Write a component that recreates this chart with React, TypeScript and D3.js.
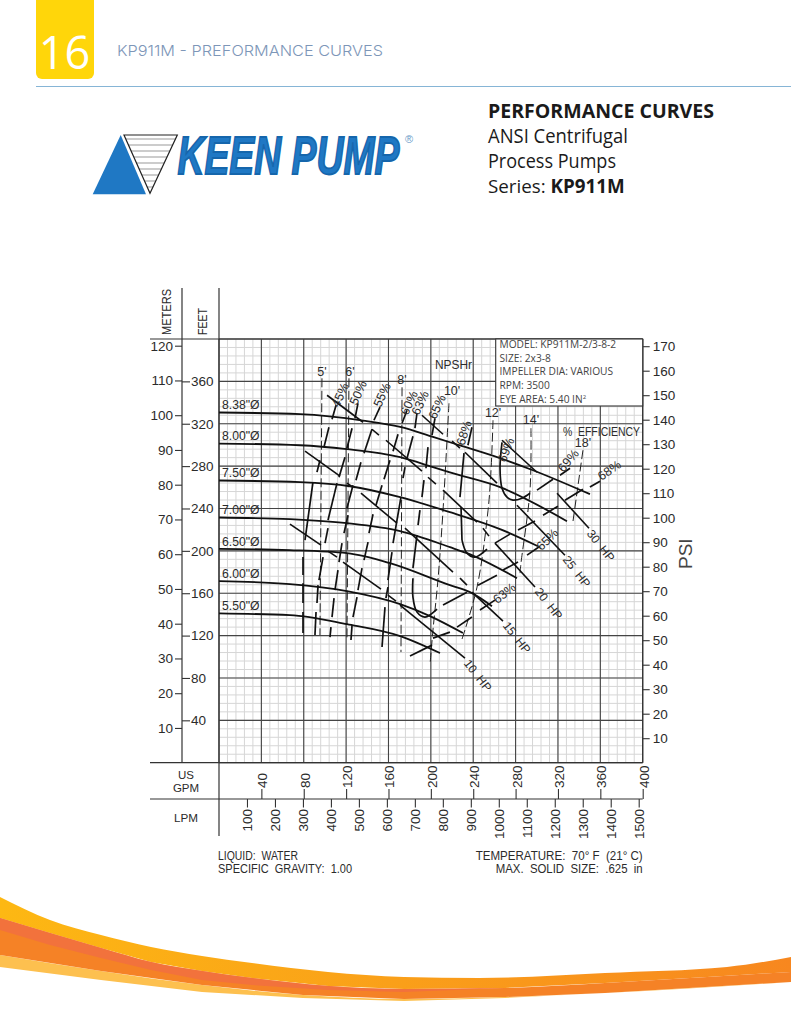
import { useEffect, useRef } from "react";
import * as d3 from "d3";

type Pt = [number, number];
type Segs = Pt[][];

// all curve values are [US GPM, feet]
const impellerLabels = ['8.38"Ø', '8.00"Ø', '7.50"Ø', '7.00"Ø', '6.50"Ø', '6.00"Ø', '5.50"Ø'];
const imp838: Pt[] = [[0, 330.6], [76.5, 329], [136, 323], [171, 317], [202, 307.5], [227.5, 299.5], [265.3, 287.5], [296.4, 276.1], [350.2, 253.5]];
const imp800: Pt[] = [[0, 301.3], [76.5, 299.7], [120.8, 296], [171, 288.4], [202, 279], [218, 274], [265.3, 260.1], [328.5, 228]];
const imp750: Pt[] = [[0, 266.4], [76.5, 264.8], [123.7, 261], [171, 250.7], [218, 236.5], [265.3, 220.5], [301.1, 204.4]];
const imp700: Pt[] = [[0, 231.5], [67, 229.9], [120.8, 226.1], [171, 218.6], [218, 203.5], [234.1, 197.8], [281.3, 174.2]];
const imp650: Pt[] = [[0, 201.9], [67, 200.7], [120.8, 197.8], [161.4, 188.4], [218, 167.6], [237, 161], [257.7, 147.8]];
const imp600: Pt[] = [[0, 171.4], [67, 168.6], [120.8, 162], [171, 149.7], [199.2, 138.4], [230.3, 122.4]];
const imp550: Pt[] = [[0, 140.9], [67, 139.3], [120.8, 130.8], [171, 119.5], [208.6, 103.5]];
const impellers = [imp838, imp800, imp750, imp700, imp650, imp600, imp550];

const hp10: Segs = [
  [[67, 225.2], [96.3, 205.4]], [[102.9, 199.7], [111.4, 194.1]], [[117.1, 189.3], [152.9, 163.9]],
  [[159.5, 158.2], [167.1, 152.6]], [[170.9, 148.8], [232.2, 98.8]],
];
const hp15: Segs = [
  [[81.2, 294.1], [114.2, 270.6]], [[120.8, 263.9], [126.5, 260.1]], [[134, 254.4], [168, 226.1]],
  [[175.6, 221.4], [220.9, 179.9]], [[227.5, 174.2], [234.1, 167.6]], [[238.8, 161], [268.1, 133.7]],
];
const hp20: Segs = [
  [[102, 346.9], [136, 321.4]], [[144.4, 314.8], [151, 309.2]], [[157.6, 304.4], [191.6, 275.2]],
  [[197.3, 269.5], [204.8, 262.9]], [[211.5, 257.3], [243.6, 227.1]], [[249.2, 221.4], [254.9, 213.9]],
  [[260.5, 207.3], [298.3, 165.8]],
];
const hp25: Segs = [
  [[191.6, 328], [211.5, 310.1]], [[220, 303.5], [227.5, 296.9]], [[232.2, 293.1], [262.4, 263.9]],
  [[281.3, 243.1], [326.6, 195.9]],
];
const hp30: Segs = [[[267.2, 304.4], [300.2, 274.2]], [[319.1, 254.4], [349.3, 221.4]]];
const powerLines = [hp10, hp15, hp20, hp25, hp30];

const npsh5: Pt[] = [[97.2, 362.9], [95.3, 120.5]];
const npsh6: Pt[] = [[122.7, 362.9], [120.8, 115.8]];
const npsh8: Pt[] = [[172.8, 354.4], [171.8, 104.4]];
const npsh10: Pt[] = [[217.1, 339.3], [211.5, 238.4], [206.7, 172.4], [202, 125.2], [199.2, 92.2]];
const npsh12: Pt[] = [[258.7, 323.3], [256.8, 276.1], [254, 238.4], [243.6, 165.8], [228.5, 113.9]];
const npsh14: Pt[] = [[294.5, 315.8], [293.6, 257.3], [285.1, 188.4], [284.2, 179]];
const npsh18: Pt[] = [[343.6, 295], [334.2, 228]];
const npshLines = [npsh5, npsh6, npsh8, npsh10, npsh12, npsh14, npsh18];

const eff45: Segs = [
  [[110.5, 337.4], [106.7, 324.3]], [[103.8, 316.7], [99.1, 297.9]], [[95.3, 285.6], [92.5, 274.3]],
  [[88.7, 264.9], [81.2, 210.1]], [[79.3, 194.1], [79.3, 177.1]], [[79.3, 169.5], [79.3, 150.7]], [[79.3, 142.2], [79.3, 122.4]],
];
const eff50: Segs = [
  [[131.2, 339.3], [128.4, 325.2]], [[125.6, 315.8], [120.8, 296.9]], [[118.9, 288.4], [113.3, 269.5]],
  [[111.4, 263.9], [102.9, 229]], [[102.9, 221.4], [100.1, 207.3]], [[98.2, 194.1], [94.4, 172.4]],
  [[93.5, 167.6], [92.5, 150.7]], [[91.6, 142.2], [90.6, 120.5]],
];
const eff55: Segs = [
  [[152, 335.6], [146.3, 323.3]], [[144.4, 314.8], [136.9, 292.2]], [[134, 283.7], [129.3, 266.7]],
  [[126.5, 262], [120.8, 240.3]], [[121.8, 233.7], [118, 216.7]], [[116.1, 207.3], [113.3, 189.3]],
  [[112.3, 181.8], [109.5, 162.9]], [[108.6, 155.4], [106.7, 137.5]], [[105.7, 128], [104.8, 118.6]],
];
const eff60: Segs = [
  [[177.5, 332.7], [172.8, 320.5]], [[169, 310.1], [164.3, 294.1]], [[161.4, 285.6], [155.8, 267.6]],
  [[153.9, 262], [148.2, 243.1]], [[145.4, 234.6], [141.6, 216.7]], [[140.7, 208.2], [136.9, 191.2]],
  [[135, 183.7], [131.2, 162.9]], [[130.3, 156.3], [126.5, 137.5]], [[125.6, 129.9], [124.6, 115.8]],
];
const eff63: Segs = [
  [[186.9, 329.9], [185, 315.8]], [[183.1, 308.2], [177.5, 287.5]], [[175.6, 279], [173.7, 268.6]],
  [[171.8, 250.7], [164.3, 207.3]], [[163.3, 198.8], [159.5, 172.4]], [[159.5, 165.8], [157.6, 155.4]],
  [[156.7, 146.9], [153.9, 109.2]],
  [[180.3, 100.7], [201.1, 111]], [[202, 117.6], [218, 123.3]], [[224.7, 128], [238.8, 137.5]], [[246.4, 144.1], [260.5, 153.5]],
];
const eff65: Segs = [
  [[203.9, 325.2], [201.1, 309.2]], [[197.3, 297.9], [195.4, 278]], [[193.5, 266.7], [191.6, 250.7]],
  [[189.7, 238.4], [187.9, 224.2]], [[186.9, 214.8], [183.1, 183.7]],
  [[183.1, 174.2], [183.1, 156.3], [186.9, 142.2], [194.5, 137.5], [205.8, 145]],
  [[211.5, 148.8], [234.1, 161]],
  [[244.5, 167.6], [262.4, 177]], [[268.1, 181.9], [282.3, 189.4]], [[290.8, 196], [303, 204.4]],
];
const eff68: Segs = [
  [[238.8, 316.7], [235, 299.7]], [[231.3, 292.2], [227.5, 250.7]], [[228.5, 241.2], [229.4, 210.1]],
  [[229.4, 210.1], [234.1, 197.8], [241.7, 194.1], [253, 201.6]],
  [[260.5, 207.3], [274.7, 215.8]], [[282.3, 219.6], [298.3, 228.1]], [[305.9, 233.7], [320, 242.2]],
  [[326.6, 247.8], [343.6, 258.2]], [[350.2, 260.2], [359.7, 265.8]],
];
const eff69: Segs = [
  [[267.2, 302.5], [265.3, 278], [267.2, 259.2], [271.9, 250.7], [277.5, 247.9], [286, 249.7], [293.6, 254.4]],
  [[300.2, 257.3], [315.3, 267.6]], [[321.9, 271.4], [331.4, 278]],
];
const effLines = [eff45, eff50, eff55, eff60, eff63, eff65, eff68, eff69];

// label, gpm, feet, rotation
const effLabels: [string, number, number, number][] = [
  ["45%", 115.2, 346.9, -65], ["50%", 132.2, 348.8, -65], ["55%", 154.8, 346.9, -65],
  ["60%", 180.3, 339.3, -65], ["63%", 190.7, 339.3, -65], ["65%", 206.7, 335.6, -65],
  ["68%", 232.2, 311, -72], ["69%", 271.9, 295, -68], ["69%", 330.4, 284.6, -50],
  ["68%", 369.1, 275.2, -35], ["65%", 310.6, 210.1, -45], ["63%", 270, 159.2, -38],
];
const hpLabels: [string, number, number][] = [
  ["30  HP", 359.7, 204.4], ["25  HP", 337, 179.9], ["20  HP", 310.6, 149.7], ["15  HP", 280.4, 117.6], ["10  HP", 243.6, 81.8],
];
const npshLabels: [string, number, number][] = [
  ["5'", 97.2, 368.6], ["6'", 123.7, 368.6], ["8'", 172.8, 360.2], ["10'", 220, 349.8],
  ["12'", 258.7, 329.9], ["14'", 294.5, 323.3], ["18'", 343.6, 301.6],
];

const meterTicks = d3.range(10, 121, 10);
const feetTicks = d3.range(40, 361, 40);
const psiTicks = d3.range(10, 171, 10);
const gpmTicks = d3.range(40, 401, 40);
const lpmTicks = d3.range(100, 1501, 100);
const minorGrid = d3.range(0, 401, 8);
const majorGrid = d3.range(0, 401, 40);

const infoLines = ["MODEL: KP911M-2/3-8-2", "SIZE: 2x3-8", "IMPELLER DIA: VARIOUS", "RPM: 3500"];

// swoosh bands, [x, y] in page pixels
const swooshTop: Pt[] = [[0, 897], [50, 920], [101, 935], [151, 947], [202, 956], [252, 963], [328, 972], [404, 977], [479, 978], [605, 973], [727, 967], [791, 957]];
const swooshMid: Pt[] = [[0, 918], [50, 933], [101, 948], [151, 962], [202, 971], [252, 978], [328, 986], [404, 989], [505, 988], [605, 983], [707, 977], [791, 972]];
const swooshSalmon: Pt[] = [[0, 930], [50, 945], [101, 958], [151, 970], [202, 980], [252, 985], [328, 990], [404, 992], [505, 988]];
const swooshLow: Pt[] = [[0, 955], [101, 971], [202, 985], [303, 995], [404, 999], [505, 997], [605, 993], [791, 982]];
const swooshBottom: Pt[] = [[0, 967], [101, 980], [202, 992], [303, 998], [404, 1001], [505, 998], [605, 993], [791, 982]];

const CAD_FONT = "'Liberation Sans', Arial, sans-serif";
const INK = "#2b2b2b";
const X0 = 219;
const X1 = 642.7;
const Y0 = 762.7;
const Y1 = 339;

export default function App() {
  const svgRef = useRef<SVGSVGElement>(null);

  useEffect(() => {
    const svg = d3.select(svgRef.current);
    svg.selectAll("*").remove();

    const x = d3.scaleLinear().domain([0, 400]).range([X0, X1]);
    const xLpm = d3.scaleLinear().domain([0, 1500]).range([X0, 638.7]);
    const y = d3.scaleLinear().domain([0, 400]).range([Y0, Y1]);
    const yM = d3.scaleLinear().domain([0, 120]).range([Y0, 345.7]);
    const yPsi = d3.scaleLinear().domain([0, 170]).range([Y0, 346.2]);

    const defs = svg.append("defs");
    const grad = defs.append("linearGradient").attr("id", "swooshYellow");
    grad.append("stop").attr("offset", "0").attr("stop-color", "#fdb813");
    grad.append("stop").attr("offset", "1").attr("stop-color", "#f7871f");
    defs.append("clipPath").attr("id", "logoClip").append("polygon").attr("points", "124,135 177.3,135 150,193.3");

    // header
    svg.append("path").attr("d", "M36,0H94V73a6,6 0 0 1 -6,6H42a6,6 0 0 1 -6,-6Z").attr("fill", "#ffd60a");
    svg.append("text").attr("x", 64.5).attr("y", 69).attr("text-anchor", "middle").attr("fill", "#fff")
      .attr("font-family", "'Open Sans', sans-serif").attr("font-weight", 400).attr("font-size", 45).text("16");
    svg.append("text").attr("x", 117).attr("y", 56).attr("fill", "#7d96b8").attr("font-family", "Inter, sans-serif")
      .attr("font-weight", 300).attr("font-size", 15).attr("textLength", 266).attr("lengthAdjust", "spacingAndGlyphs")
      .text("KP911M - PREFORMANCE CURVES");
    svg.append("line").attr("x1", 36).attr("x2", 791).attr("y1", 86.5).attr("y2", 86.5).attr("stroke", "#86b5d6");

    // logo
    svg.append("polygon").attr("points", "92.7,194.3 146,194.3 120.7,135").attr("fill", "#1f78c4");
    const logoStripes = svg.append("g").attr("clip-path", "url(#logoClip)");
    d3.range(139, 193, 6).forEach((sy) => {
      logoStripes.append("line").attr("x1", 120).attr("x2", 180).attr("y1", sy).attr("y2", sy).attr("stroke", "#9a9a9a").attr("stroke-width", 1.2);
    });
    svg.append("polygon").attr("points", "124,135 177.3,135 150,193.3").attr("fill", "none").attr("stroke", "#222").attr("stroke-width", 1.2);
    svg.append("text").attr("x", 177.5).attr("y", 173.6).attr("fill", "#1f78c4").attr("stroke", "#1566ac").attr("stroke-width", 1.8)
      .attr("font-family", CAD_FONT).attr("font-weight", 700).attr("font-style", "italic").attr("font-size", 53)
      .attr("textLength", 222).attr("lengthAdjust", "spacingAndGlyphs").text("KEEN PUMP");
    svg.append("text").attr("x", 405).attr("y", 143).attr("fill", "#6a9bc8").attr("font-family", CAD_FONT).attr("font-size", 11).text("®");

    // heading block
    const heading = svg.append("g").attr("font-family", "'Open Sans', sans-serif").attr("fill", "#1a1a1a").attr("font-size", 19.5);
    heading.append("text").attr("x", 488).attr("y", 118).attr("font-weight", 700).attr("textLength", 226).attr("lengthAdjust", "spacingAndGlyphs").text("PERFORMANCE CURVES");
    heading.append("text").attr("x", 488).attr("y", 143).attr("textLength", 140).attr("lengthAdjust", "spacingAndGlyphs").text("ANSI Centrifugal");
    heading.append("text").attr("x", 488).attr("y", 168).attr("textLength", 128).attr("lengthAdjust", "spacingAndGlyphs").text("Process Pumps");
    const series = heading.append("text").attr("x", 488).attr("y", 193).attr("font-size", 18.8);
    series.append("tspan").text("Series: ");
    series.append("tspan").attr("font-weight", 700).text("KP911M");

    // grid
    const grid = svg.append("g");
    minorGrid.forEach((v) => {
      grid.append("line").attr("x1", x(v)).attr("x2", x(v)).attr("y1", Y1).attr("y2", Y0).attr("stroke", "#d6d6d6");
      grid.append("line").attr("x1", X0).attr("x2", X1).attr("y1", y(v)).attr("y2", y(v)).attr("stroke", "#d6d6d6");
    });
    majorGrid.forEach((v) => {
      grid.append("line").attr("x1", x(v)).attr("x2", x(v)).attr("y1", Y1).attr("y2", Y0).attr("stroke", "#444").attr("stroke-width", 1.1);
      grid.append("line").attr("x1", X0).attr("x2", X1).attr("y1", y(v)).attr("y2", y(v)).attr("stroke", "#444").attr("stroke-width", 1.1);
    });

    // frame lines
    const frame = svg.append("g").attr("stroke", "#333").attr("stroke-width", 1.2);
    frame.append("line").attr("x1", 182).attr("x2", 182).attr("y1", 288).attr("y2", Y0);
    frame.append("line").attr("x1", X0).attr("x2", X0).attr("y1", 288).attr("y2", 836);
    frame.append("line").attr("x1", 150).attr("x2", X1).attr("y1", Y1).attr("y2", Y1);
    frame.append("line").attr("x1", 150).attr("x2", X1).attr("y1", Y0).attr("y2", Y0);
    frame.append("line").attr("x1", 150).attr("x2", X1).attr("y1", 799).attr("y2", 799);
    frame.append("line").attr("x1", X1).attr("x2", X1).attr("y1", Y1).attr("y2", Y0);

    const styleAxis = (g: d3.Selection<SVGGElement, unknown, null, undefined>) => {
      g.select(".domain").remove();
      g.selectAll(".tick line").attr("stroke", "#333").attr("stroke-width", 1.1);
      g.selectAll(".tick text").attr("fill", INK).attr("font-family", CAD_FONT).attr("font-size", 13.5);
    };
    svg.append("g").attr("transform", "translate(182,0)")
      .call(d3.axisLeft(yM).tickValues(meterTicks).tickSize(7).tickPadding(2)).call(styleAxis);
    svg.append("g").attr("transform", "translate(182,0)")
      .call(d3.axisRight(y).tickValues(feetTicks).tickSize(8).tickPadding(1)).call(styleAxis);
    svg.append("g").attr("transform", `translate(${X1},0)`)
      .call(d3.axisRight(yPsi).tickValues(psiTicks).tickSize(7).tickPadding(3)).call(styleAxis);
    svg.append("g").attr("transform", "translate(0,799)")
      .call(d3.axisTop(x).tickValues(gpmTicks).tickFormat(d3.format("d")).tickSize(10).tickPadding(1)).call(styleAxis)
      .selectAll(".tick text").attr("transform", "translate(5.5,-11) rotate(-90)").attr("text-anchor", "start").attr("x", 0).attr("y", 0).attr("dy", 0);
    svg.append("g").attr("transform", "translate(0,799)")
      .call(d3.axisBottom(xLpm).tickValues(lpmTicks).tickFormat(d3.format("d")).tickSize(8.5).tickPadding(1)).call(styleAxis)
      .selectAll(".tick text").attr("transform", "translate(5,10) rotate(-90)").attr("text-anchor", "end").attr("x", 0).attr("y", 0).attr("dy", 0);

    // curves
    const impLine = d3.line<Pt>().x((d) => x(d[0])).y((d) => y(d[1])).curve(d3.curveMonotoneX);
    const freeLine = d3.line<Pt>().x((d) => x(d[0])).y((d) => y(d[1])).curve(d3.curveCatmullRom);

    const npshG = svg.append("g").attr("fill", "none").attr("stroke", "#222").attr("stroke-width", 1).attr("stroke-dasharray", "9 3.5");
    npshLines.forEach((l) => npshG.append("path").attr("d", freeLine(l)));

    const effG = svg.append("g").attr("fill", "none").attr("stroke", "#111").attr("stroke-width", 1.7);
    effLines.forEach((segs) => segs.forEach((s) => effG.append("path").attr("d", freeLine(s))));

    const hpG = svg.append("g").attr("fill", "none").attr("stroke", "#111").attr("stroke-width", 1.6);
    powerLines.forEach((segs) => segs.forEach((s) => hpG.append("path").attr("d", freeLine(s))));

    const impG = svg.append("g").attr("fill", "none").attr("stroke", "#111").attr("stroke-width", 1.8);
    impellers.forEach((l) => impG.append("path").attr("d", impLine(l)));

    // info box sits over the grid
    svg.append("rect").attr("x", 495.7).attr("y", Y1).attr("width", X1 - 495.7).attr("height", 67)
      .attr("fill", "#fff").attr("stroke", "#333").attr("stroke-width", 1.1);
    const info = svg.append("g").attr("font-family", "'Open Sans', sans-serif").attr("font-size", 10.2).attr("fill", "#444");
    infoLines.forEach((t, i) => info.append("text").attr("x", 499.5).attr("y", 348 + i * 13.7).text(t));
    const eye = info.append("text").attr("x", 499.5).attr("y", 403).text("EYE AREA: 5.40 IN");
    eye.append("tspan").attr("font-size", 6).attr("dy", -4).text("2");

    // chart labels
    const labels = svg.append("g").attr("font-family", CAD_FONT).attr("fill", INK).attr("font-size", 12.2);
    impellerLabels.forEach((t, i) => labels.append("text").attr("x", 222).attr("y", y(impellers[i][0][1]) - 3.2).text(t));
    effLabels.forEach(([t, g, f, r]) => {
      labels.append("text").attr("text-anchor", "middle").attr("dominant-baseline", "middle").attr("font-size", 12.5)
        .attr("transform", `translate(${x(g)},${y(f)}) rotate(${r})`).text(t);
    });
    hpLabels.forEach(([t, g, f]) => {
      labels.append("text").attr("text-anchor", "middle").attr("dominant-baseline", "middle")
        .style("white-space", "pre").attr("font-size", 12)
        .attr("transform", `translate(${x(g)},${y(f)}) rotate(52)`).text(t);
    });
    npshLabels.forEach(([t, g, f]) => {
      labels.append("text").attr("text-anchor", "middle").attr("dominant-baseline", "middle").attr("x", x(g)).attr("y", y(f)).attr("font-size", 12.5).text(t);
    });
    labels.append("text").attr("x", 435).attr("y", 369).attr("font-size", 13).attr("textLength", 37).attr("lengthAdjust", "spacingAndGlyphs").text("NPSHr");
    labels.append("text").attr("x", 563).attr("y", 435.7).attr("font-size", 13).attr("textLength", 77).attr("lengthAdjust", "spacingAndGlyphs").style("white-space", "pre").text("%  EFFICIENCY");
    labels.append("text").attr("transform", "translate(171,335) rotate(-90)").attr("font-size", 12.5).attr("textLength", 46).attr("lengthAdjust", "spacingAndGlyphs").text("METERS");
    labels.append("text").attr("transform", "translate(207,335) rotate(-90)").attr("font-size", 13).attr("textLength", 27).attr("lengthAdjust", "spacingAndGlyphs").text("FEET");
    labels.append("text").attr("x", 186).attr("y", 779).attr("text-anchor", "middle").attr("font-size", 11.5).text("US");
    labels.append("text").attr("x", 186).attr("y", 792).attr("text-anchor", "middle").attr("font-size", 11.5).text("GPM");
    labels.append("text").attr("x", 186).attr("y", 821.5).attr("text-anchor", "middle").attr("font-size", 11.7).text("LPM");
    labels.append("text").attr("transform", "translate(692,569) rotate(-90)").attr("font-size", 19).attr("fill", "#444").text("PSI");

    labels.append("text").attr("x", 218).attr("y", 860).attr("font-size", 12).attr("textLength", 80).attr("lengthAdjust", "spacingAndGlyphs").text("LIQUID:  WATER").style("white-space", "pre");
    labels.append("text").attr("x", 218).attr("y", 873).attr("font-size", 12).attr("textLength", 134).attr("lengthAdjust", "spacingAndGlyphs").text("SPECIFIC  GRAVITY:  1.00").style("white-space", "pre");
    labels.append("text").attr("x", 475.7).attr("y", 860).attr("font-size", 12).attr("textLength", 167).attr("lengthAdjust", "spacingAndGlyphs").text("TEMPERATURE:  70° F  (21° C)").style("white-space", "pre");
    labels.append("text").attr("x", 495.7).attr("y", 873).attr("font-size", 12).attr("textLength", 147).attr("lengthAdjust", "spacingAndGlyphs").text("MAX.  SOLID  SIZE:  .625  in").style("white-space", "pre");

    // bottom swoosh
    const band = (top: Pt[], bottom: Pt[], fill: string) => {
      const upper = d3.line<Pt>().curve(d3.curveMonotoneX)(top) as string;
      const lower = d3.line<Pt>().curve(d3.curveLinear)(bottom.slice().reverse()) as string;
      svg.append("path").attr("d", `${upper}L${lower.slice(1)}Z`).attr("fill", fill);
    };
    band(swooshLow, swooshBottom, "#fdc04f");
    band(swooshTop, swooshMid, "url(#swooshYellow)");
    band(swooshMid, swooshLow, "#f58226");
    band(swooshMid.slice(0, 9), swooshSalmon, "#f2723c");
  }, []);

  return (
    <svg
      ref={svgRef}
      width={791}
      height={1024}
      viewBox="0 0 791 1024"
      style={{ position: "absolute", top: 0, left: 0, display: "block", background: "#fff" }}
    />
  );
}
